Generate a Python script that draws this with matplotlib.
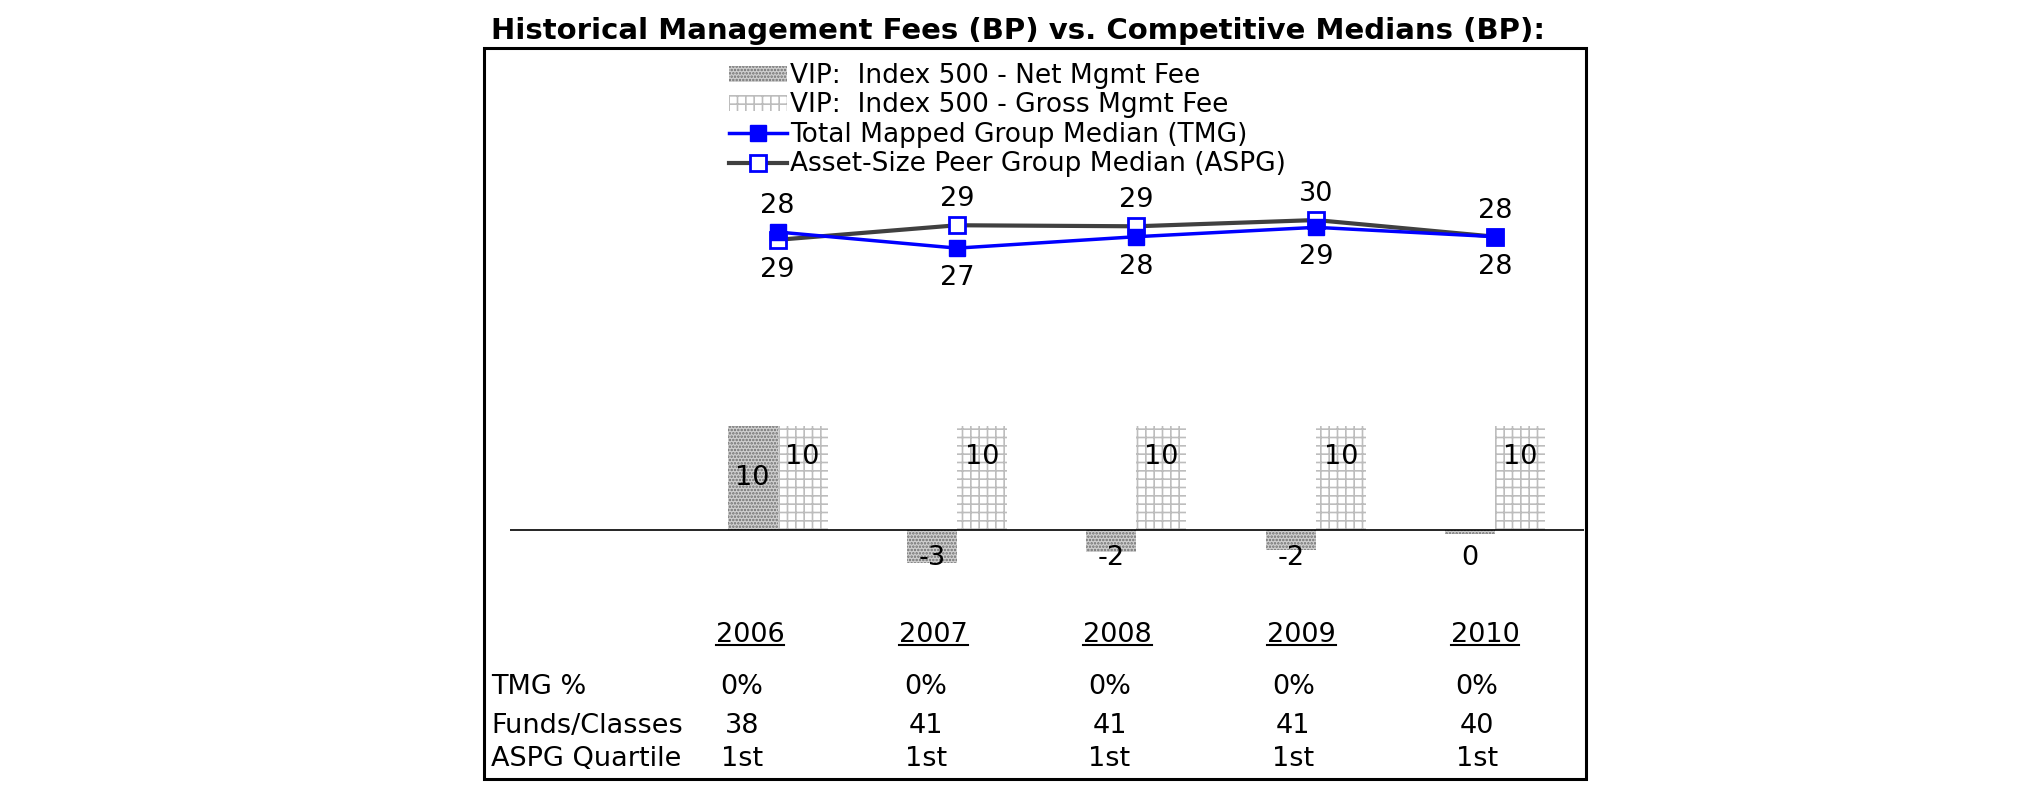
import matplotlib
matplotlib.use('Agg')
import matplotlib.pyplot as plt
from matplotlib.patches import Rectangle, Patch
from matplotlib.lines import Line2D
import numpy as np

# Chart values
years = ['2006', '2007', '2008', '2009', '2010']
net_fee = [10, -3.2, -2.1, -1.9, -0.4]
gross_fee = [10, 10, 10, 10, 10]
tmg_median = [28.65, 27.1, 28.2, 29.1, 28.2]
aspg_median = [27.9, 29.3, 29.2, 29.8, 28.2]
tmg_labels = ['28', '27', '28', '29', '28']
aspg_labels = ['29', '29', '29', '30', '28']

# Table below the chart
row_names = ['TMG %', 'Funds/Classes', 'ASPG Quartile']
tmg_pct = ['0%', '0%', '0%', '0%', '0%']
funds_classes = ['38', '41', '41', '41', '40']
aspg_quartile = ['1st', '1st', '1st', '1st', '1st']

legend_labels = ['VIP:  Index 500 - Net Mgmt Fee',
                 'VIP:  Index 500 - Gross Mgmt Fee',
                 'Total Mapped Group Median (TMG)',
                 'Asset-Size Peer Group Median (ASPG)']
title = 'Historical Management Fees (BP) vs. Competitive Medians (BP):'

plt.rcParams['font.family'] = ['DejaVu Sans']
plt.rcParams['hatch.linewidth'] = 1.2

W, H = 2025, 806
def fx(px):
    return px / W
def fy(py):
    return 1 - py / H

fig = plt.figure(figsize=(W / 100, H / 100), dpi=100)

# outer box
fig.add_artist(Rectangle((fx(484), fy(779)), fx(1586) - fx(484), fy(48) - fy(779),
                         transform=fig.transFigure, fill=False, lw=2.2, ec='black'))
fig.text(fx(491), fy(31), title, fontsize=21, fontweight='bold', ha='left', va='center')

ax = fig.add_axes([fx(510), fy(620), fx(1584) - fx(510), fy(50) - fy(620)])
ax.set_xlim(-1.492, 4.495)
ax.set_ylim(-8.654, 46.15)
ax.axis('off')

x = np.arange(len(years))
w = 0.279
net_style = dict(facecolor='#d0d0d0', edgecolor='#6e6e6e', hatch='.....', linewidth=0)
gross_style = dict(facecolor='white', edgecolor='#bdbdbd', hatch='++', linewidth=0)
ax.bar(x - w / 2, net_fee, w, **net_style)
ax.bar(x + w / 2, gross_fee, w, **gross_style)
ax.axhline(0, color='black', lw=1.2)

aspg_style = dict(color='#404040', lw=3, marker='s', ms=11, mfc='white', mec='#0000ff', mew=2)
tmg_style = dict(color='#0000ff', lw=2.5, marker='s', ms=11, mfc='#0000ff', mec='#0000ff')
ax.plot(x, aspg_median, zorder=3, **aspg_style)
ax.plot(x, tmg_median, zorder=4, **tmg_style)

# point labels: higher series above, lower below
for i in range(len(years)):
    if tmg_median[i] >= aspg_median[i]:
        hi, lo = (tmg_labels[i], tmg_median[i]), (aspg_labels[i], aspg_median[i])
    else:
        hi, lo = (aspg_labels[i], aspg_median[i]), (tmg_labels[i], tmg_median[i])
    ax.annotate(hi[0], (i, hi[1]), xytext=(0, 26), textcoords='offset pixels',
                ha='center', va='center', fontsize=19.5)
    ax.annotate(lo[0], (i, lo[1]), xytext=(0, -30), textcoords='offset pixels',
                ha='center', va='center', fontsize=19.5)

# bar labels
for i, v in enumerate(net_fee):
    y = v / 2 if v > 0 else -2.7
    ax.text(i - w / 2, y, f'{round(v):d}', ha='center', va='center', fontsize=19.5)
for i, v in enumerate(gross_fee):
    ax.text(i + w / 2, v * 0.7, f'{round(v):d}', ha='center', va='center', fontsize=19.5)

handles = [Patch(label=legend_labels[0], **net_style),
           Patch(label=legend_labels[1], **gross_style),
           Line2D([], [], label=legend_labels[2], **tmg_style),
           Line2D([], [], label=legend_labels[3], **aspg_style)]
fig.legend(handles=handles, loc='upper left', bbox_to_anchor=(fx(729), fy(63)),
           frameon=False, fontsize=19, borderpad=0, borderaxespad=0,
           handlelength=2.2, handletextpad=0.12, labelspacing=0.13, handleheight=0.57)

# table
col_x = [750 + 183.75 * i for i in range(len(years))]
year_texts = [fig.text(fx(cx), fy(635), yr, ha='center', va='center', fontsize=19.5)
              for cx, yr in zip(col_x, years)]
row_y = [687, 726, 759]
for ry, name, vals in zip(row_y, row_names, [tmg_pct, funds_classes, aspg_quartile]):
    fig.text(fx(491), fy(ry), name, ha='left', va='center', fontsize=19.5)
    for cx, v in zip(col_x, vals):
        fig.text(fx(cx - 8), fy(ry), v, ha='center', va='center', fontsize=19.5)

fig.canvas.draw()
renderer = fig.canvas.get_renderer()
for t in year_texts:
    bb = t.get_window_extent(renderer)
    fig.add_artist(Line2D([bb.x0 / W, bb.x1 / W], [(bb.y0 + 3) / H] * 2,
                          transform=fig.transFigure, color='black', lw=1.5))

fig.savefig('out.png', dpi=100)
